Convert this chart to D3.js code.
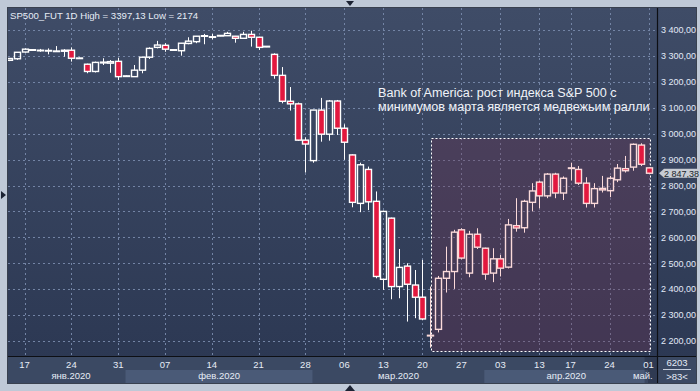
<!DOCTYPE html>
<html><head><meta charset="utf-8">
<script src="https://cdn.jsdelivr.net/npm/d3@7"></script>
<style>
html,body{margin:0;padding:0;background:#bfc9d7;overflow:hidden;}
svg{display:block;font-family:"Liberation Sans",Arial,sans-serif;}
</style></head><body>
<svg id="c" width="700" height="391"></svg>
<script>
// ---- data (bar index 0..82, daily futures candles, 17 Jan – 01 May 2020) ----
const opens  = [3283,3289,3315,3324,3322,3320,3318,3318,3322,3292,3268,3240,3273,3272,3279,3222,3220,3245,3295,3333,3341,3324,3320,3348,3355,3376,3373,3377,3378,3376,3368,3383,3372,3337,3306,3225,3125,3115,2975,2896,3091,2998,3126,3021,2918,2731,2862,2739,2438,2674,2410,2489,2416,2369,2220,2245,2442,2468,2629,2462,2612,2558,2462,2517,2485,2645,2637,2735,2813,2760,2844,2771,2866,2862,2809,2731,2789,2780,2822,2865,2871,2956,2868];
const highs  = [3292,3315,3329,3325,3327,3329,3338,3326,3333,3294,3270,3278,3291,3284,3293,3225,3265,3297,3333,3358,3349,3325,3350,3372,3377,3385,3385,3380,3393,3377,3393,3397.13,3374,3338,3310,3257,3180,3120,2986,3092,3138,3130,3130,3036,2920,2888,2873,2777,2703,2676,2555,2500,2474,2513,2410,2451,2564,2629,2635,2625,2635,2560,2558,2532,2671,2751,2745,2809,2819,2848,2849,2835,2888,2875,2832,2809,2837,2837,2883,2914,2962,2963,2870];
const lows   = [3280,3285,3313,3321,3316,3306,3316,3297,3278,3289,3233,3236,3265,3235,3207,3220,3219,3233,3288,3329,3316,3321,3301,3345,3349,3345,3364,3376,3377,3351,3366,3336,3323,3334,3212,3117,3089,2972,2850,2888,2969,2973,2995,2899,2716,2697,2705,2442,2397,2361,2365,2275,2288,2280,2174,2233,2387,2401,2515,2446,2555,2436,2427,2449,2480,2622,2618,2700,2712,2751,2751,2744,2819,2802,2715,2715,2773,2755,2813,2850,2857,2875,2845];
const closes = [3290,3314,3326,3322,3322,3321,3319,3322,3291,3291,3240,3275,3276,3278,3220,3223,3245,3295,3329,3342,3326,3322,3349,3357,3376,3378,3374,3379,3387,3368,3383,3372,3333,3335,3225,3125,3115,2975,2960,3091,2998,3126,3021,2967,2735,2880,2737,2449,2700,2410,2484,2419,2369,2285,2222,2442,2468,2620,2520,2612,2562,2458,2517,2481,2648,2636,2739,2779,2760,2844,2771,2828,2868,2809,2731,2788,2783,2828,2867,2857,2959,2882,2847.38];
const dayTickIndex  = [2,8,14,20,26,32,38,43,48,53,58,63,68,72,77,82];
const dayTickLabels = ["17","24","31","07","14","21","28","06","13","20","27","03","13","17","24","01"];
const monthLabels   = ["янв.2020","фев.2020","мар.2020","апр.2020","май.2020"];
const monthStartIdx = [-1,15,39,61,82];
const priceTicks    = [2200,2300,2400,2500,2600,2700,2800,2900,3000,3100,3200,3300,3400];
const headerText = "SP500_FUT 1D High = 3397,13 Low = 2174";
const noteLines  = ["Bank of America: рост индекса S&P 500 с","минимумов марта является медвежьим ралли"];
const zoneFrom = 54, zoneHigh = 2985, zoneLow = 2160;
const barsCountText = ">83<", volText = "6203";

// ---- layout ----
const PL=8, PT=8, PR=657, PB=356, FR=696, FB=383;
const svg=d3.select("#c");
const defs=svg.append("defs");
const g=defs.append("linearGradient").attr("id","bg").attr("x1",0).attr("y1",0).attr("x2",0).attr("y2",1);
g.append("stop").attr("offset","0%").attr("stop-color","#3f4c67");
g.append("stop").attr("offset","100%").attr("stop-color","#2b3752");
defs.append("clipPath").attr("id","plotClip").append("rect").attr("x",PL).attr("y",PT).attr("width",PR-PL).attr("height",PB-PT);
defs.append("clipPath").attr("id","axClip").append("rect").attr("x",PL).attr("y",PB).attr("width",PR-PL).attr("height",FB-PB);

const x=d3.scaleLinear().domain([0,82]).range([9,648.6]);
const y=d3.scaleLinear().domain([2200,3400]).range([341,30]);
const fmt=d3.formatLocale({decimal:",",thousands:" ",grouping:[3],currency:["",""]}).format(",.2f");

// frame marks
svg.append("path").attr("d","M346,1L354,1L350,6Z").attr("fill","#1c2333");
svg.append("path").attr("d","M345,391L355,391L350,385Z").attr("fill","#1c2333");
svg.append("path").attr("d","M1,191L1,199L6,195Z").attr("fill","#1c2333");

// panel
svg.append("rect").attr("x",PL-0.5).attr("y",PT-0.5).attr("width",FR-PL+1).attr("height",FB-PT+1).attr("fill","url(#bg)").attr("stroke","#39414f");
svg.append("rect").attr("x",PL).attr("y",PB).attr("width",FR-PL).attr("height",FB-PB).attr("fill","#3b4963");

// grid
const grid=svg.append("g").attr("clip-path","url(#plotClip)");
grid.selectAll("line.h").data(priceTicks).join("line").attr("class","h")
  .attr("x1",PL).attr("x2",PR).attr("y1",d=>Math.round(y(d))+0.5).attr("y2",d=>Math.round(y(d))+0.5)
  .attr("stroke","#7384a5").attr("stroke-dasharray","2,3").attr("stroke-width",1);
grid.selectAll("line.v").data(dayTickIndex).join("line").attr("class","v")
  .attr("y1",PT).attr("y2",PB).attr("x1",d=>Math.round(x(d))+0.5).attr("x2",d=>Math.round(x(d))+0.5)
  .attr("stroke","#7384a5").attr("stroke-dasharray","2,3").attr("stroke-width",1);

// zone
const zx0=Math.round(x(zoneFrom))+1.5, zx1=Math.round(x(82))+1.5;
grid.append("rect").attr("x",zx0).attr("y",Math.round(y(zoneHigh))+0.5)
  .attr("width",zx1-zx0).attr("height",Math.round(y(zoneLow))-Math.round(y(zoneHigh)))
  .attr("fill","rgba(112,52,82,0.33)").attr("stroke","#ffffff").attr("stroke-dasharray","2,2").attr("stroke-width",1);

// candles
const plot=svg.append("g").attr("clip-path","url(#plotClip)");
const idx=d3.range(opens.length);
const cg=plot.selectAll("g.c").data(idx).join("g").attr("class","c");
const col=i=> i>=zoneFrom ? "#fbdada" : "#ffffff";
const cx=i=>Math.round(x(i))+0.5;
cg.append("line").attr("x1",cx).attr("x2",cx)
  .attr("y1",i=>y(highs[i])).attr("y2",i=>y(Math.max(opens[i],closes[i])))
  .attr("stroke",col).attr("stroke-width",1);
cg.append("line").attr("x1",cx).attr("x2",cx)
  .attr("y1",i=>y(Math.min(opens[i],closes[i]))).attr("y2",i=>y(lows[i]))
  .attr("stroke",col).attr("stroke-width",1);
cg.append("rect")
  .attr("x",i=>cx(i)-3).attr("width",6)
  .attr("y",i=>y(Math.max(opens[i],closes[i])))
  .attr("height",i=>Math.max(0.6,Math.abs(y(opens[i])-y(closes[i]))))
  .attr("fill",i=>closes[i]<opens[i] ? "#e2183e" : "none")
  .attr("stroke",col).attr("stroke-width",1.4);

// header & note
svg.append("text").attr("x",10).attr("y",18.5).attr("font-size",9.6).attr("fill","#e6ecf6").text(headerText);
const note=svg.append("g");
noteLines.forEach((t,k)=>{
  note.append("text").attr("class","nt").attr("x",378).attr("y",96.8+k*14.6).attr("font-size",12).attr("fill","#f0f3f9").text(t);
});
const n2=note.selectAll("text.nt").nodes()[1];
const w2=n2.getComputedTextLength();
note.selectAll("text.nt").attr("font-size",12*272/w2);

// axes lines
svg.append("line").attr("x1",PR+0.5).attr("x2",PR+0.5).attr("y1",PT).attr("y2",FB).attr("stroke","#0d0f14").attr("stroke-width",1.2);
svg.append("line").attr("x1",PL).attr("x2",FR).attr("y1",PB+0.5).attr("y2",PB+0.5).attr("stroke","#0d0f14").attr("stroke-width",1.2);
svg.append("g").selectAll("text").data(priceTicks).join("text")
  .attr("x",661).attr("y",d=>y(d)+3.3).attr("font-size",9).attr("fill","#e2eaf8").text(d=>fmt(d));

// last price tag
const lp=closes[closes.length-1], ly=y(lp);
svg.append("path").attr("d",`M659,${ly}L664,${ly-4.5}L700,${ly-4.5}L700,${ly+4.5}L664,${ly+4.5}Z`).attr("fill","#c7ccd4");
svg.append("text").attr("x",664).attr("y",ly+3.3).attr("font-size",9).attr("fill","#1a1f2b").text(fmt(lp));

// bottom axis
const ax=svg.append("g").attr("clip-path","url(#axClip)");
const bandX=k=> k===0 ? PL : x(monthStartIdx[k])-0.5;
const bandEnd=k=> k<monthStartIdx.length-1 ? bandX(k+1) : x(82)+40;
ax.selectAll("rect.m").data(d3.range(monthLabels.length)).join("rect").attr("class","m")
  .attr("x",bandX).attr("width",k=>bandEnd(k)-bandX(k)).attr("y",370).attr("height",FB-370)
  .attr("fill",k=> k%2 ? "#4a5a77" : "#3b4963");
ax.append("rect").attr("x",x(82)-4).attr("width",PR-x(82)+4).attr("y",PB).attr("height",FB-PB).attr("fill","rgba(10,15,30,0.25)");
ax.selectAll("text.d").data(dayTickIndex).join("text").attr("class","d")
  .attr("x",d=>x(d)).attr("y",368).attr("text-anchor","middle").attr("font-size",9.5).attr("fill","#e6ecf6")
  .text((d,i)=>dayTickLabels[i]);
const labX=[71,0,0,0,0];
ax.selectAll("text.m").data(d3.range(4)).join("text").attr("class","m")
  .attr("x",k=> labX[k] || (bandX(k)+bandEnd(k))/2).attr("y",378.5).attr("text-anchor","middle")
  .attr("font-size",9.5).attr("fill","#e6ecf6").text(k=>monthLabels[k]);
// last month label: only the part that fits before the plot edge is shown
const lastM=ax.append("text").attr("x",633).attr("y",378.5).attr("font-size",9.5).attr("fill","#e6ecf6");
let s=monthLabels[4];
lastM.text(s);
while(s.length>1 && 633+lastM.node().getComputedTextLength()>PR){ s=s.slice(0,-1); lastM.text(s); }

// right-bottom box
svg.append("text").attr("x",677).attr("y",365.5).attr("text-anchor","middle").attr("font-size",9.5).attr("fill","#e6ecf6").text(volText);
svg.append("line").attr("x1",663).attr("x2",691).attr("y1",369.5).attr("y2",369.5).attr("stroke","#c5cedd");
svg.append("text").attr("x",677).attr("y",379.5).attr("text-anchor","middle").attr("font-size",9.5).attr("fill","#e6ecf6").text(barsCountText);
</script>
</body></html>
